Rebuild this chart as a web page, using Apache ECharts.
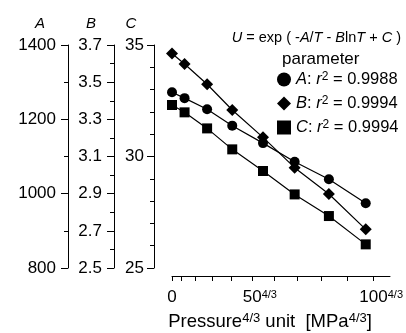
<!DOCTYPE html>
<html>
<head>
<meta charset="utf-8">
<script src="https://cdn.jsdelivr.net/npm/echarts@6/dist/echarts.min.js"></script>
<style>
  html, body { margin: 0; padding: 0; background: #fff; }
  #chart { width: 406px; height: 333px; }
</style>
</head>
<body>
<div id="chart"></div>
<script>
// x position of each measurement, in Pressure^(4/3) units
var xValues = [0, 29, 81, 139, 210, 283, 362, 447];
// fitted parameters
var aValues = [1273, 1257, 1227, 1183, 1136, 1086, 1039, 974];
var bValues = [3.654, 3.598, 3.489, 3.350, 3.203, 3.040, 2.898, 2.708];
var cValues = [32.31, 31.98, 31.26, 30.32, 29.35, 28.30, 27.33, 26.06];
// pressure ticks (MPa), drawn on a P^(4/3) scale
var pressureTicks = [0, 10, 20, 30, 40, 50, 60, 70, 80, 90, 100];
var pressureLabels = [0, 50, 100];
var legendNames = ["A", "B", "C"];
var r2Values = ["0.9988", "0.9994", "0.9994"];

var FONT = "Liberation Sans";
var chart = echarts.init(document.getElementById("chart"));

function pairs(ys) {
  var out = [];
  for (var i = 0; i < xValues.length; i++) out.push([xValues[i], ys[i]]);
  return out;
}

function yAxisOpt(name, min, max, interval, minorSplit, offset, nameShift, digits, margin) {
  return {
    type: "value",
    position: "left",
    offset: offset,
    min: min,
    max: max,
    interval: interval,
    name: name,
    nameLocation: "end",
    nameGap: 14,
    nameTextStyle: {
      fontFamily: FONT, fontSize: 15, fontStyle: "italic", color: "#000",
      align: "center", padding: [0, nameShift * 2, 0, 0]
    },
    axisLine: { show: true, onZero: false, lineStyle: { color: "#000", width: 1 } },
    axisTick: { show: true, length: 7, lineStyle: { color: "#000" } },
    minorTick: { show: true, splitNumber: minorSplit, length: 4, lineStyle: { color: "#000" } },
    splitLine: { show: false },
    axisLabel: {
      fontFamily: FONT, fontSize: 17, color: "#000", margin: margin,
      formatter: function (v) { return v.toFixed(digits); }
    }
  };
}

var supStyle = { fontFamily: FONT, fontSize: 11, color: "#000", verticalAlign: "top" };
var itStyle = { fontFamily: FONT, fontSize: 16.5, fontStyle: "italic", color: "#000" };

var symbols = ["circle", "diamond", "rect"];
var sizes = [10, 12, 10];
var allY = [aValues, bValues, cValues];
var series = [];
for (var k = 0; k < 3; k++) {
  series.push({
    name: legendNames[k],
    type: "line",
    yAxisIndex: k,
    data: pairs(allY[k]),
    symbol: symbols[k],
    symbolSize: sizes[k],
    itemStyle: { color: "#000" },
    lineStyle: { color: "#000", width: 1.2 },
    animation: false
  });
}

var option = {
  backgroundColor: "#fff",
  animation: false,
  title: [
    {
      text: "{i|U} = exp ( -{i|A}/{i|T} - {i|B}ln{i|T} + {i|C} )",
      right: 0, top: 25,
      textStyle: {
        fontFamily: FONT, fontSize: 14.5, fontWeight: "normal", color: "#000",
        rich: { i: { fontFamily: FONT, fontSize: 14.5, fontStyle: "italic", color: "#000" } }
      }
    },
    {
      text: "parameter",
      left: 277, top: 46,
      textStyle: { fontFamily: FONT, fontSize: 17, fontWeight: "normal", color: "#000" }
    }
  ],
  legend: {
    orient: "vertical",
    left: 272,
    top: 66,
    itemWidth: 14,
    itemHeight: 14,
    itemGap: 7,
    selectedMode: false,
    data: [
      { name: "A", icon: "circle" },
      { name: "B", icon: "diamond" },
      { name: "C", icon: "rect" }
    ],
    formatter: function (name) {
      var i = legendNames.indexOf(name);
      return "{i|" + name + "}: {i|r}{sup|2} = " + r2Values[i];
    },
    textStyle: {
      fontFamily: FONT, fontSize: 16.5, color: "#000",
      rich: { i: itStyle, sup: { fontFamily: FONT, fontSize: 12, color: "#000", verticalAlign: "top" } }
    }
  },
  grid: { left: 172, right: 16, top: 45, bottom: 65, containLabel: false, outerBoundsMode: "none" },
  xAxis: {
    type: "value",
    min: 0,
    max: 503,
    offset: 8,
    name: "Pressure{sup|4/3} unit  [MPa{sup|4/3}]",
    nameLocation: "middle",
    nameGap: 36,
    nameTextStyle: {
      fontFamily: FONT, fontSize: 18.5, color: "#000", padding: [0, 22, 0, 0],
      rich: { sup: { fontFamily: FONT, fontSize: 13, color: "#000", verticalAlign: "top" } }
    },
    axisLine: { show: true, onZero: false, lineStyle: { color: "#000", width: 1 } },
    axisTick: {
      show: true, length: 5, lineStyle: { color: "#000" },
      customValues: pressureTicks.map(function (p) { return Math.pow(p, 4 / 3); })
    },
    splitLine: { show: false },
    axisLabel: {
      fontFamily: FONT, fontSize: 17, color: "#000", margin: 13,
      customValues: pressureLabels.map(function (p) { return Math.pow(p, 4 / 3); }),
      formatter: function (v) {
        var p = Math.round(Math.pow(v, 3 / 4));
        if (p === 0) return "0";
        return "{sp|}" + p + "{sup|4/3}";
      },
      rich: { sup: supStyle, sp: { width: 16 } }
    }
  },
  yAxis: [
    yAxisOpt("A", 800, 1400, 200, 2, 104, 28, 0, 12),
    yAxisOpt("B", 2.5, 3.7, 0.2, 2, 58, 23, 1, 12),
    yAxisOpt("C", 25, 35, 5, 5, 18, 23, 0, 10)
  ],
  series: series
};

chart.setOption(option);
</script>
</body>
</html>
